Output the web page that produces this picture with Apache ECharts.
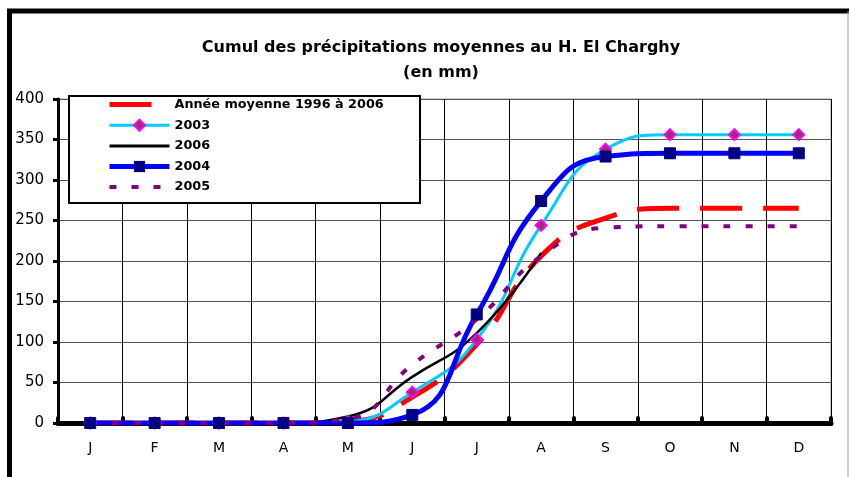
<!DOCTYPE html>
<html>
<head>
<meta charset="utf-8">
<script src="https://cdn.jsdelivr.net/npm/echarts@6/dist/echarts.min.js"></script>
<style>
  html, body { margin: 0; padding: 0; background: #fff; }
  #chart { width: 849px; height: 477px; }
</style>
</head>
<body>
<div id="chart"></div>
<script>
// mois
const months = ['J', 'F', 'M', 'A', 'M', 'J', 'J', 'A', 'S', 'O', 'N', 'D'];
// cumuls en mm
const moyenne = [0, 0, 0, 0, 2, 32, 97, 206, 253, 265, 265, 265];
const an2003 = [0, 0, 0, 0, 2, 38, 103, 244, 338, 356, 356, 356];
const an2006 = [0, 0, 0, 0, 8, 57, 111, 210, null, null, null, null];
const an2004 = [0, 0, 0, 0, 0, 10, 134, 274, 329, 333, 333, 333];
const an2005 = [0, 0, 0, 0, 5, 72, 128, 206, 241, 243, 243, 243];
const yTicks = [0, 50, 100, 150, 200, 250, 300, 350, 400];

const myChart = echarts.init(document.getElementById('chart'));
const font = 'DejaVu Sans';
const noSymbol = { opacity: 0 };

const option = {
  backgroundColor: '#fff',
  animation: false,
  title: {
    text: 'Cumul des précipitations moyennes au H. El Charghy\n(en mm)',
    left: 439,
    textAlign: 'center',
    top: 33,
    padding: 2,
    textStyle: {
      fontFamily: font,
      fontSize: 16,
      fontWeight: 'bold',
      color: '#000',
      lineHeight: 25
    }
  },
  graphic: [
    // cadre
    {
      type: 'polyline',
      shape: { points: [[9.5, 477], [9.5, 11], [849, 11]] },
      style: { stroke: '#000', lineWidth: 5, fill: null },
      silent: true
    },
    {
      type: 'line',
      shape: { x1: 848, y1: 11, x2: 848, y2: 477 },
      style: { stroke: '#999', lineWidth: 1 },
      silent: true
    },
    // fond de la légende
    {
      type: 'rect',
      z: 3,
      shape: { x: 69, y: 96, width: 351, height: 107 },
      style: { fill: '#fff', stroke: '#000', lineWidth: 2 },
      silent: true
    }
  ],
  legend: {
    orient: 'vertical',
    left: 69,
    top: 96,
    padding: [2, 0, 8, 38],
    itemWidth: 60,
    itemHeight: 14,
    itemGap: 7.6,
    z: 5,
    textStyle: {
      fontFamily: font,
      fontSize: 12.8,
      fontWeight: 'bold',
      color: '#000'
    },
    data: [
      { name: 'Année moyenne 1996 à 2006', itemStyle: noSymbol, lineStyle: { width: 5, type: [42, 21] } },
      { name: '2003', lineStyle: { width: 3 } },
      { name: '2006', itemStyle: noSymbol, lineStyle: { width: 3 } },
      { name: '2004', lineStyle: { width: 5 } },
      { name: '2005', itemStyle: noSymbol, lineStyle: { width: 4, type: [7, 15] } }
    ]
  },
  grid: {
    left: 58,
    right: 18,
    top: 99,
    bottom: 54,
    show: true,
    borderColor: '#999',
    borderWidth: 1
  },
  xAxis: {
    type: 'category',
    data: months,
    boundaryGap: true,
    axisLine: { lineStyle: { color: '#000', width: 5 } },
    axisTick: { show: true, inside: true, length: 5, lineStyle: { color: '#000', width: 4, cap: 'round' } },
    splitLine: { show: true, lineStyle: { color: '#000', width: 1 } },
    axisLabel: { fontFamily: font, fontSize: 14, color: '#000', margin: 18 }
  },
  yAxis: {
    type: 'value',
    min: yTicks[0],
    max: yTicks[yTicks.length - 1],
    interval: 50,
    axisLine: { show: true, lineStyle: { color: '#000', width: 3 } },
    axisTick: { show: true, length: 5, lineStyle: { color: '#000', width: 3 } },
    splitLine: { show: true, lineStyle: { color: '#555', width: 1 } },
    axisLabel: { fontFamily: font, fontSize: 15, color: '#000', margin: 14 }
  },
  series: [
    {
      name: 'Année moyenne 1996 à 2006',
      type: 'line',
      data: moyenne,
      smooth: 0.5,
      symbol: 'none',
      lineStyle: { color: '#FF0000', width: 5, type: [42, 21] },
      itemStyle: { color: '#FF0000' }
    },
    {
      name: '2003',
      type: 'line',
      data: an2003,
      smooth: 0.5,
      symbol: 'diamond',
      symbolSize: 11,
      lineStyle: { color: '#00CCFF', width: 3 },
      itemStyle: { color: '#993366', borderColor: '#FF00FF', borderWidth: 2 }
    },
    {
      name: '2006',
      type: 'line',
      data: an2006,
      smooth: 0.5,
      symbol: 'none',
      lineStyle: { color: '#000', width: 2.5 },
      itemStyle: { color: '#000' }
    },
    {
      name: '2004',
      type: 'line',
      data: an2004,
      smooth: 0.5,
      symbol: 'rect',
      symbolSize: 11,
      lineStyle: { color: '#0000FF', width: 5 },
      itemStyle: { color: '#000080', borderColor: '#000080' }
    },
    {
      name: '2005',
      type: 'line',
      data: an2005,
      smooth: 0.5,
      symbol: 'none',
      lineStyle: { color: '#800080', width: 4, type: [7, 15] },
      itemStyle: { color: '#800080' }
    }
  ]
};
myChart.setOption(option);
</script>
</body>
</html>
